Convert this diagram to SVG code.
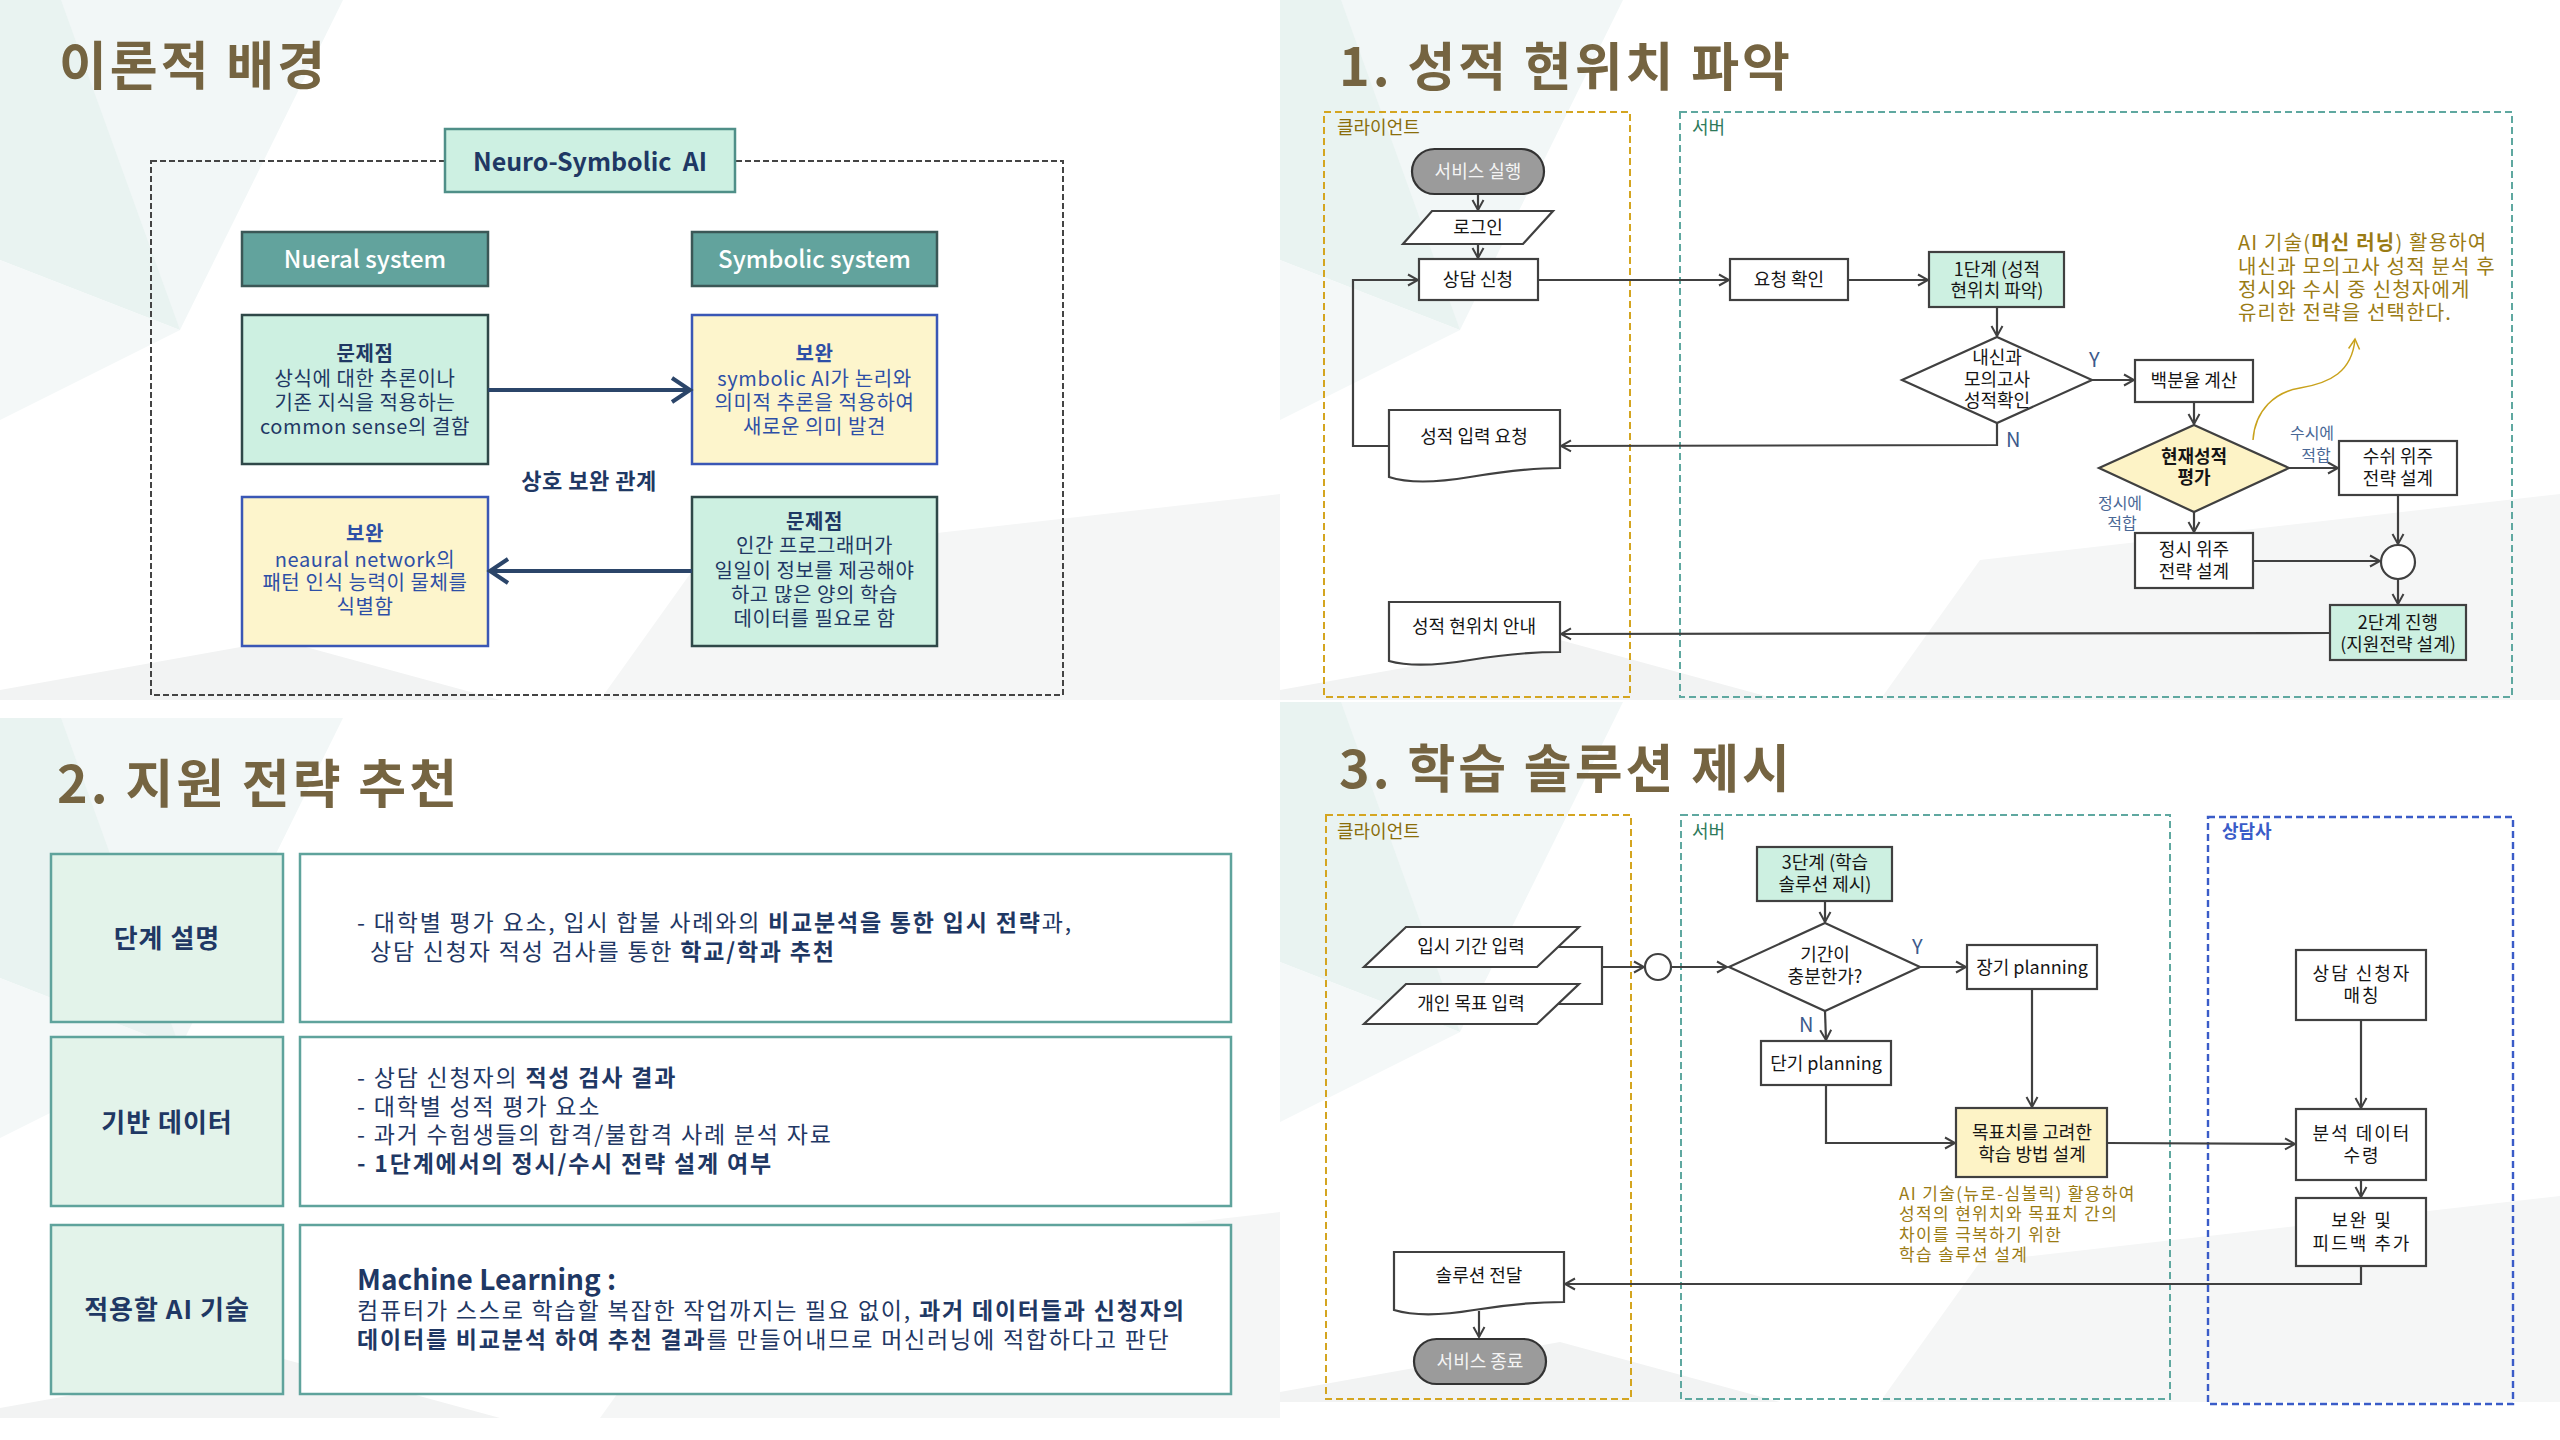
<svg xmlns="http://www.w3.org/2000/svg" width="2560" height="1440" viewBox="0 0 2560 1440">
<defs>
<style>
text{font-family:"Noto Sans CJK KR","Noto Sans",sans-serif;}
.title{font-size:52px;font-weight:700;fill:#756441;letter-spacing:3px;}
.fl{stroke:#404040;stroke-width:2.2;fill:none;}
.box{fill:#ffffff;stroke:#404040;stroke-width:2.2;}
.mint{fill:#cdf0e1;stroke:#404040;stroke-width:2.2;}
.yel{fill:#fdf3c6;stroke:#404040;stroke-width:2.2;}
.term{fill:#9b9b9b;stroke:#333333;stroke-width:2.2;}
.t{font-size:18px;fill:#151515;text-anchor:middle;}
.tw{font-size:18px;fill:#f4f4f4;text-anchor:middle;}
.ts{letter-spacing:2px;}
.yn{font-size:20px;fill:#3d5a8c;}
.fit{font-size:16px;fill:#4a6896;text-anchor:middle;}
.ann{fill:#9a7b14;}
.a1{font-size:20px;letter-spacing:1.2px;}
.a3{font-size:17px;letter-spacing:1.35px;}
.lane-c{fill:none;stroke:#d4a520;stroke-width:2;stroke-dasharray:7 4;}
.lane-s{fill:none;stroke:#5fa8a0;stroke-width:2;stroke-dasharray:7 4;}
.lane-a{fill:none;stroke:#3a5cc8;stroke-width:2.4;stroke-dasharray:7 4;}
.lbl{font-size:18px;}
.nav{fill:#1f3864;}
.blu{fill:#2d4fa6;}
.tl{font-size:20px;text-anchor:middle;letter-spacing:0.6px;}
.hdr{fill:#62a39d;stroke:#3b5756;stroke-width:2.5;}
.pm{fill:#cdf0e1;stroke:#2f4848;stroke-width:2.5;}
.py{fill:#fdf5cc;stroke:#3a57b5;stroke-width:2.5;}
.lab{fill:#e3f3ea;stroke:#5fa39c;stroke-width:2.5;}
.cnt{fill:#ffffff;stroke:#5fa39c;stroke-width:2.5;}
.row{font-size:23px;fill:#1f3864;letter-spacing:1.8px;}
.rlab{font-size:26px;font-weight:700;fill:#1f3864;text-anchor:middle;letter-spacing:1px;}
.big{stroke:#2b4569;stroke-width:4;fill:none;}
</style>
<marker id="ah" viewBox="0 0 14 14" refX="12" refY="7" markerWidth="14" markerHeight="14" markerUnits="userSpaceOnUse" orient="auto"><path d="M2,1.5 L12,7 L2,12.5" fill="none" stroke="#404040" stroke-width="2"/></marker>
<marker id="ahg" viewBox="0 0 14 14" refX="12" refY="7" markerWidth="14" markerHeight="14" markerUnits="userSpaceOnUse" orient="auto"><path d="M2,1.5 L12,7 L2,12.5" fill="none" stroke="#c9a21c" stroke-width="1.5"/></marker>
<marker id="ahb" viewBox="0 0 26 28" refX="22" refY="14" markerWidth="26" markerHeight="28" markerUnits="userSpaceOnUse" orient="auto"><path d="M4,2 L22,14 L4,26" fill="none" stroke="#2b4569" stroke-width="4"/></marker>
<g id="tpl">
<polygon points="0,0 343,0 180,330 0,260" fill="#f2f7f7"/>
<polygon points="0,0 61,0 180,330 0,260" fill="#e9f3f1"/>
<polygon points="0,260 180,330 0,420" fill="#f4f8f8"/>
<polygon points="700,560 1280,494 1280,700 600,700" fill="#f5f6f6"/>
<polygon points="0,700 0,690 280,640 500,700" fill="#f2f3f3"/>
</g>
</defs>

<rect width="2560" height="1440" fill="#ffffff"/>
<g id="background">
<use href="#tpl"/>
<use href="#tpl" transform="translate(0,718)"/>
<use href="#tpl" transform="translate(1280,0)"/>
<use href="#tpl" transform="translate(1280,702)"/>
</g>

<!-- ========== Section: 이론적 배경 ========== -->
<g id="title-theory"><text class="title" x="59" y="85">이론적 배경</text></g>
<rect id="ns-frame" x="151" y="161" width="912" height="534" fill="none" stroke="#444" stroke-width="2" stroke-dasharray="6 3"/>
<g id="neuro-symbolic">
<rect x="445" y="129" width="290" height="63" fill="#cdf0e2" stroke="#4f8f88" stroke-width="2.5"/>
<text x="590" y="171" font-size="25" font-weight="600" fill="#1f3864" text-anchor="middle">Neuro-Symbolic&#160;&#160;AI</text>
</g>
<g id="neural-system">
<rect class="hdr" x="242" y="232" width="246" height="54"/>
<text x="365" y="268" font-size="24" font-weight="500" fill="#ffffff" text-anchor="middle">Nueral system</text>
</g>
<g id="symbolic-system">
<rect class="hdr" x="692" y="232" width="245" height="54"/>
<text x="814.5" y="268" font-size="24" font-weight="500" fill="#ffffff" text-anchor="middle">Symbolic system</text>
</g>
<g id="neural-problem">
<rect class="pm" x="242" y="315" width="246" height="149"/>
<text class="tl nav" x="365" y="361" font-weight="700">문제점</text>
<text class="tl nav" x="365" y="386">상식에 대한 추론이나</text>
<text class="tl nav" x="365" y="410">기존 지식을 적용하는</text>
<text class="tl nav" x="365" y="434">common sense의 결함</text>
</g>
<g id="symbolic-complement">
<rect class="py" x="692" y="315" width="245" height="149"/>
<text class="tl blu" x="814.5" y="361" font-weight="700">보완</text>
<text class="tl blu" x="814.5" y="386">symbolic AI가 논리와</text>
<text class="tl blu" x="814.5" y="410">의미적 추론을 적용하여</text>
<text class="tl blu" x="814.5" y="434">새로운 의미 발견</text>
</g>
<g id="neural-complement">
<rect class="py" x="242" y="497" width="246" height="149"/>
<text class="tl blu" x="365" y="541" font-weight="700">보완</text>
<text class="tl blu" x="365" y="567">neaural network의</text>
<text class="tl blu" x="365" y="590">패턴 인식 능력이 물체를</text>
<text class="tl blu" x="365" y="614">식별함</text>
</g>
<g id="symbolic-problem">
<rect class="pm" x="692" y="497" width="245" height="149"/>
<text class="tl nav" x="814.5" y="529" font-weight="700">문제점</text>
<text class="tl nav" x="814.5" y="553">인간 프로그래머가</text>
<text class="tl nav" x="814.5" y="578">일일이 정보를 제공해야</text>
<text class="tl nav" x="814.5" y="602">하고 많은 양의 학습</text>
<text class="tl nav" x="814.5" y="626">데이터를 필요로 함</text>
</g>
<g id="ns-connectors">
<line class="big" x1="488" y1="390" x2="690" y2="390" marker-end="url(#ahb)"/>
<line class="big" x1="692" y1="571" x2="490" y2="571" marker-end="url(#ahb)"/>
<text x="589" y="489" font-size="22" font-weight="700" fill="#1f3864" text-anchor="middle" letter-spacing="0.5">상호 보완 관계</text>
</g>

<!-- ========== Section 2 ========== -->
<g id="title-2"><text class="title" x="57" y="803">2. 지원 전략 추천</text></g>
<g id="row-1">
<rect class="lab" x="51" y="854" width="232" height="168"/>
<text class="rlab" x="167" y="948">단계 설명</text>
<rect class="cnt" x="300" y="854" width="931" height="168"/>
<text class="row" x="357" y="931">- 대학별 평가 요소, 입시 합불 사례와의 <tspan font-weight="700">비교분석을 통한 입시 전략</tspan>과,</text>
<text class="row" x="370" y="960">상담 신청자 적성 검사를 통한 <tspan font-weight="700">학교/학과 추천</tspan></text>
</g>
<g id="row-2">
<rect class="lab" x="51" y="1037" width="232" height="169"/>
<text class="rlab" x="167" y="1132">기반 데이터</text>
<rect class="cnt" x="300" y="1037" width="931" height="169"/>
<text class="row" x="357" y="1086">- 상담 신청자의 <tspan font-weight="700">적성 검사 결과</tspan></text>
<text class="row" x="357" y="1115">- 대학별 성적 평가 요소</text>
<text class="row" x="357" y="1143">- 과거 수험생들의 합격/불합격 사례 분석 자료</text>
<text class="row" x="357" y="1172" font-weight="700">- 1단계에서의 정시/수시 전략 설계 여부</text>
</g>
<g id="row-3">
<rect class="lab" x="51" y="1225" width="232" height="169"/>
<text class="rlab" x="167" y="1319">적용할 AI 기술</text>
<rect class="cnt" x="300" y="1225" width="931" height="169"/>
<text x="357" y="1290" font-size="28" font-weight="700" fill="#1f3864">Machine Learning :</text>
<text class="row" x="357" y="1319">컴퓨터가 스스로 학습할 복잡한 작업까지는 필요 없이, <tspan font-weight="700">과거 데이터들과 신청자의</tspan></text>
<text class="row" x="357" y="1348"><tspan font-weight="700">데이터를 비교분석 하여 추천 결과</tspan>를 만들어내므로 머신러닝에 적합하다고 판단</text>
</g>

<!-- ========== Section 1 flowchart ========== -->
<g id="title-1"><text class="title" x="1339" y="86">1. 성적 현위치 파악</text></g>
<g id="lane-client-1"><rect class="lane-c" x="1324" y="112" width="306" height="585"/><text class="lbl" x="1337" y="134" fill="#8a6d0a">클라이언트</text></g>
<g id="lane-server-1"><rect class="lane-s" x="1680" y="112" width="832" height="585"/><text class="lbl" x="1692" y="134" fill="#2e7a5a">서버</text></g>

<g id="connectors-1">
<line class="fl" x1="1478" y1="194" x2="1478" y2="210" marker-end="url(#ah)"/>
<line class="fl" x1="1478" y1="244" x2="1478" y2="258" marker-end="url(#ah)"/>
<line class="fl" x1="1538" y1="280" x2="1729" y2="280" marker-end="url(#ah)"/>
<line class="fl" x1="1848" y1="280" x2="1928" y2="280" marker-end="url(#ah)"/>
<line class="fl" x1="1997" y1="307" x2="1997" y2="336" marker-end="url(#ah)"/>
<line class="fl" x1="2092" y1="380" x2="2134" y2="380" marker-end="url(#ah)"/>
<polyline class="fl" points="1997,423 1997,445 1561,446" marker-end="url(#ah)"/>
<polyline class="fl" points="1389,446 1353,446 1353,280 1418,280" marker-end="url(#ah)"/>
<line class="fl" x1="2194" y1="402" x2="2194" y2="424" marker-end="url(#ah)"/>
<line class="fl" x1="2289" y1="468" x2="2338" y2="468" marker-end="url(#ah)"/>
<line class="fl" x1="2194" y1="512" x2="2194" y2="532" marker-end="url(#ah)"/>
<line class="fl" x1="2398" y1="495" x2="2398" y2="544" marker-end="url(#ah)"/>
<line class="fl" x1="2253" y1="561" x2="2380" y2="561" marker-end="url(#ah)"/>
<line class="fl" x1="2398" y1="579" x2="2398" y2="604" marker-end="url(#ah)"/>
<line class="fl" x1="2330" y1="633" x2="1561" y2="634" marker-end="url(#ah)"/>
<path d="M2253,440 C2255,410 2275,392 2300,388 C2330,383 2352,372 2355,339" fill="none" stroke="#c9a21c" stroke-width="1.5" marker-end="url(#ahg)"/>
<text class="yn" x="2089" y="367">Y</text>
<text class="yn" x="2006" y="447">N</text>
<text class="fit" x="2312" y="439">수시에</text>
<text class="fit" x="2316" y="461">적합</text>
<text class="fit" x="2120" y="509">정시에</text>
<text class="fit" x="2122" y="529">적합</text>
</g>

<g id="n-service-start"><rect class="term" x="1412" y="149" width="132" height="45" rx="22.5"/><text class="tw" x="1478" y="178">서비스 실행</text></g>
<g id="n-login"><polygon class="box" points="1432,211 1553,211 1523,244 1403,244"/><text class="t" x="1478" y="234">로그인</text></g>
<g id="n-consult-request"><rect class="box" x="1419" y="259" width="119" height="41"/><text class="t" x="1478" y="286">상담 신청</text></g>
<g id="n-request-check"><rect class="box" x="1730" y="259" width="118" height="41"/><text class="t" x="1789" y="286">요청 확인</text></g>
<g id="n-step1"><rect class="mint" x="1929" y="252" width="135" height="55"/><text class="t" x="1997" y="276">1단계 (성적</text><text class="t" x="1997" y="297">현위치 파악)</text></g>
<g id="n-check-grades"><polygon class="box" points="1997,337 2092,380 1997,423 1902,380"/><text class="t" x="1997" y="364">내신과</text><text class="t" x="1997" y="386">모의고사</text><text class="t" x="1997" y="407">성적확인</text></g>
<g id="n-percentile"><rect class="box" x="2135" y="360" width="118" height="42"/><text class="t" x="2194" y="387">백분율 계산</text></g>
<g id="n-grade-input-request"><path class="box" d="M1389,410 H1560 V468 C1530,468 1500,472 1470,477 C1440,482 1410,484 1389,477 Z"/><text class="t" x="1474" y="443">성적 입력 요청</text></g>
<g id="n-evaluate"><polygon class="yel" points="2194,425 2289,468 2194,512 2099,468"/><text class="t" x="2194" y="463" font-weight="700">현재성적</text><text class="t" x="2194" y="484" font-weight="700">평가</text></g>
<g id="n-susi"><rect class="box" x="2339" y="441" width="118" height="54"/><text class="t" x="2398" y="463">수쉬 위주</text><text class="t" x="2398" y="485">전략 설계</text></g>
<g id="n-jeongsi"><rect class="box" x="2135" y="533" width="118" height="55"/><text class="t" x="2194" y="556">정시 위주</text><text class="t" x="2194" y="578">전략 설계</text></g>
<g id="n-merge-1"><circle cx="2398" cy="562" r="17" fill="#fff" stroke="#404040" stroke-width="2.2"/></g>
<g id="n-step2"><rect class="mint" x="2330" y="605" width="136" height="55"/><text class="t" x="2398" y="629">2단계 진행</text><text class="t" x="2398" y="651">(지원전략 설계)</text></g>
<g id="n-position-guide"><path class="box" d="M1389,602 H1560 V652 C1530,652 1500,655 1470,660 C1440,665 1410,667 1389,661 Z"/><text class="t" x="1474" y="633">성적 현위치 안내</text></g>
<g id="note-1">
<text class="ann a1" x="2238" y="250">AI 기술(<tspan font-weight="700">머신 러닝</tspan>) 활용하여</text>
<text class="ann a1" x="2238" y="274">내신과 모의고사 성적 분석 후</text>
<text class="ann a1" x="2238" y="297">정시와 수시 중 신청자에게</text>
<text class="ann a1" x="2238" y="320">유리한 전략을 선택한다.</text>
</g>

<!-- ========== Section 3 flowchart ========== -->
<g id="title-3"><text class="title" x="1339" y="788">3. 학습 솔루션 제시</text></g>
<g id="lane-client-3"><rect class="lane-c" x="1326" y="815" width="305" height="584"/><text class="lbl" x="1337" y="838" fill="#8a6d0a">클라이언트</text></g>
<g id="lane-server-3"><rect class="lane-s" x="1681" y="815" width="489" height="584"/><text class="lbl" x="1692" y="838" fill="#2e7a5a">서버</text></g>
<g id="lane-counselor"><rect class="lane-a" x="2208" y="817" width="305" height="587"/><text class="lbl" x="2222" y="838" fill="#3a5cc8" font-weight="700">상담사</text></g>

<g id="connectors-3">
<polyline class="fl" points="1558,947 1602,947 1602,1004 1558,1004"/>
<line class="fl" x1="1602" y1="967" x2="1644" y2="967" marker-end="url(#ah)"/>
<line class="fl" x1="1671" y1="967" x2="1727" y2="967" marker-end="url(#ah)"/>
<line class="fl" x1="1825" y1="901" x2="1825" y2="922" marker-end="url(#ah)"/>
<line class="fl" x1="1920" y1="967" x2="1966" y2="967" marker-end="url(#ah)"/>
<line class="fl" x1="1825" y1="1011" x2="1826" y2="1040" marker-end="url(#ah)"/>
<line class="fl" x1="2032" y1="989" x2="2032" y2="1107" marker-end="url(#ah)"/>
<polyline class="fl" points="1826,1085 1826,1143 1955,1143" marker-end="url(#ah)"/>
<line class="fl" x1="2107" y1="1143" x2="2295" y2="1144" marker-end="url(#ah)"/>
<line class="fl" x1="2361" y1="1020" x2="2361" y2="1108" marker-end="url(#ah)"/>
<line class="fl" x1="2361" y1="1180" x2="2361" y2="1197" marker-end="url(#ah)"/>
<polyline class="fl" points="2361,1266 2361,1284 1565,1284" marker-end="url(#ah)"/>
<line class="fl" x1="1479" y1="1311" x2="1479" y2="1337" marker-end="url(#ah)"/>
<text class="yn" x="1912" y="954">Y</text>
<text class="yn" x="1799" y="1032">N</text>
</g>

<g id="n-period-input"><polygon class="box" points="1406,927 1579,927 1537,967 1364,967"/><text class="t" x="1471" y="953">입시 기간 입력</text></g>
<g id="n-goal-input"><polygon class="box" points="1406,984 1579,984 1537,1024 1364,1024"/><text class="t" x="1471" y="1010">개인 목표 입력</text></g>
<g id="n-merge-3"><circle cx="1658" cy="967" r="13" fill="#fff" stroke="#404040" stroke-width="2.2"/></g>
<g id="n-step3"><rect class="mint" x="1757" y="847" width="135" height="54"/><text class="t" x="1825" y="869">3단계 (학습</text><text class="t" x="1825" y="891">솔루션 제시)</text></g>
<g id="n-enough-time"><polygon class="box" points="1825,923 1920,967 1825,1011 1729,967"/><text class="t" x="1825" y="961">기간이</text><text class="t" x="1825" y="983">충분한가?</text></g>
<g id="n-long-plan"><rect class="box" x="1967" y="945" width="130" height="44"/><text class="t" x="2032" y="974">장기 planning</text></g>
<g id="n-short-plan"><rect class="box" x="1761" y="1041" width="130" height="44"/><text class="t" x="1826" y="1070">단기 planning</text></g>
<g id="n-study-design"><rect class="yel" x="1956" y="1108" width="151" height="69"/><text class="t" x="2032" y="1139">목표치를 고려한</text><text class="t" x="2032" y="1161">학습 방법 설계</text></g>
<g id="note-3">
<text class="ann a3" x="1899" y="1200">AI 기술(뉴로-심볼릭) 활용하여</text>
<text class="ann a3" x="1899" y="1220">성적의 현위치와 목표치 간의</text>
<text class="ann a3" x="1899" y="1241">차이를 극복하기 위한</text>
<text class="ann a3" x="1899" y="1261">학습 솔루션 설계</text>
</g>
<g id="n-matching"><rect class="box" x="2296" y="950" width="130" height="70"/><text class="t ts" x="2362" y="980">상담 신청자</text><text class="t ts" x="2362" y="1002">매칭</text></g>
<g id="n-receive-data"><rect class="box" x="2296" y="1109" width="130" height="71"/><text class="t ts" x="2362" y="1140">분석 데이터</text><text class="t ts" x="2362" y="1162">수령</text></g>
<g id="n-feedback"><rect class="box" x="2296" y="1198" width="130" height="68"/><text class="t ts" x="2362" y="1227">보완 및</text><text class="t ts" x="2362" y="1250">피드백 추가</text></g>
<g id="n-solution-deliver"><path class="box" d="M1394,1252 H1564 V1302 C1534,1302 1504,1305 1474,1310 C1444,1315 1414,1316 1394,1310 Z"/><text class="t" x="1479" y="1282">솔루션 전달</text></g>
<g id="n-service-end"><rect class="term" x="1414" y="1339" width="132" height="45" rx="22.5"/><text class="tw" x="1480" y="1368">서비스 종료</text></g>
</svg>
